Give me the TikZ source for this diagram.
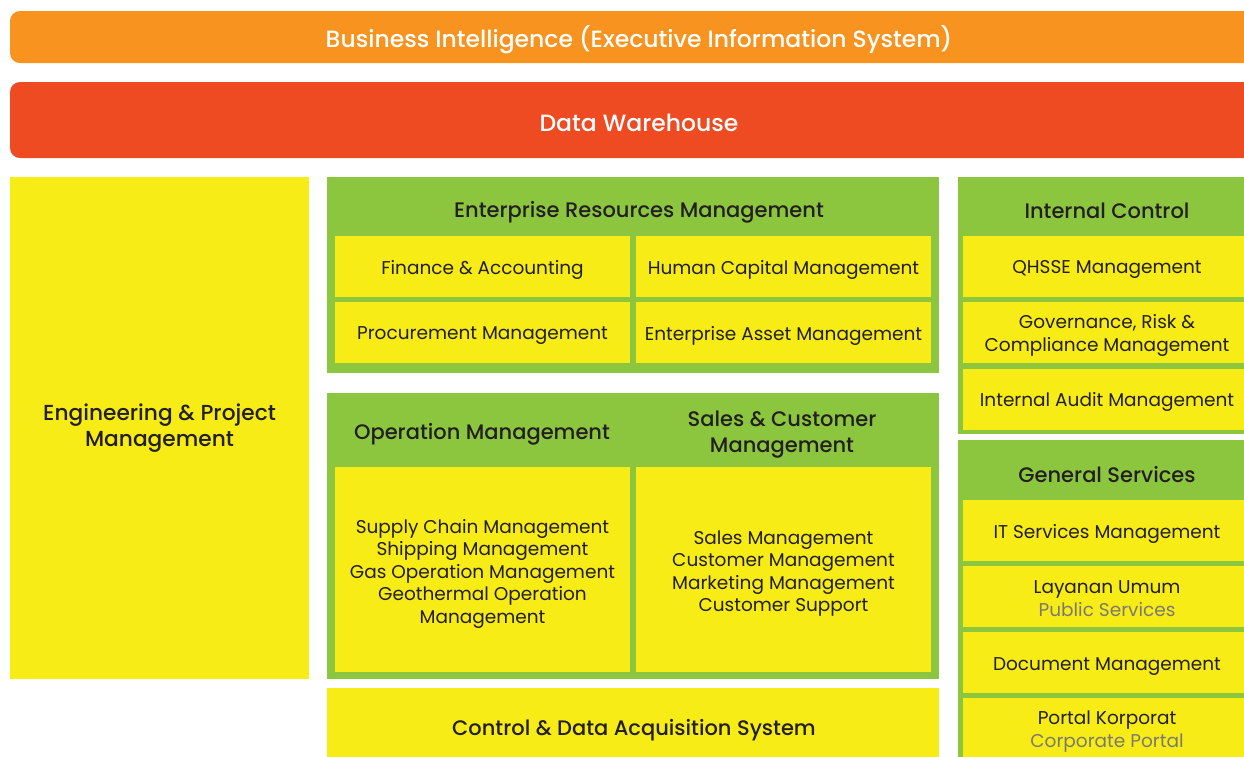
\documentclass[tikz,border=0pt]{standalone}
\usepackage{fontspec}
\setmainfont{Poppins}
\newfontfamily\medfont{Poppins Medium}
\definecolor{orng}{HTML}{F7931E}
\definecolor{redd}{HTML}{EE4B23}
\definecolor{grn}{HTML}{8CC63F}
\definecolor{ylw}{HTML}{F8EC17}
\definecolor{ink}{HTML}{231F20}
\definecolor{gry}{HTML}{7A7A70}
\tikzset{
  txt/.style={inner sep=0pt, align=center, text=ink, font=\fontsize{18.5}{22.5}\selectfont},
  hdr/.style={inner sep=0pt, align=center, text=ink, font=\medfont\fontsize{21}{26}\selectfont},
  bar/.style={inner sep=0pt, text=white, font=\medfont\fontsize{23.5}{26}\selectfont}
}
\begin{document}
\begin{tikzpicture}[x=1pt,y=-1pt]
\useasboundingbox (0,0) rectangle (1244,756);
\clip (0,0) rectangle (1244,756);
% top bars
\fill[orng, rounded corners=10pt] (10,11) rectangle (1270,63);
\node[bar] (bi) at (639,40) {Business Intelligence (Executive Information System)};
\fill[redd, rounded corners=10pt] (10,82) rectangle (1270,158);
\node[bar] (dw) at (639,122.5) {Data Warehouse};
% left column
\fill[ylw] (10,177) rectangle (309,679);
\node[hdr, font=\medfont\fontsize{21.7}{26}\selectfont] (eng) at (159.5,428) {Engineering \& Project\\Management};
% ERM group
\fill[grn] (327,177) rectangle (939,373);
\fill[ylw] (335,236) rectangle (630,297);
\fill[ylw] (636,236) rectangle (931,297);
\fill[ylw] (335,302) rectangle (630,363);
\fill[ylw] (636,302) rectangle (931,363);
\node[hdr] (ermh) at (639,212) {Enterprise Resources Management};
\node[txt] (fin) at (482.5,269.5) {Finance \& Accounting};
\node[txt] (hcm) at (783.5,269.5) {Human Capital Management};
\node[txt] (proc) at (482.5,335.5) {Procurement Management};
\node[txt] (eam) at (783.5,335.5) {Enterprise Asset Management};
% Operation / Sales group
\fill[grn] (327,393) rectangle (939,679);
\fill[ylw] (335,467) rectangle (630,672);
\fill[ylw] (636,467) rectangle (931,672);
\node[hdr] (oph) at (482,434) {Operation Management};
\node[hdr] (sch) at (782,435) {Sales \& Customer\\Management};
\node[txt] (opc) at (482.5,573.5) {Supply Chain Management\\Shipping Management\\Gas Operation Management\\Geothermal Operation\\Management};
\node[txt] (scc) at (783.5,573.5) {Sales Management\\Customer Management\\Marketing Management\\Customer Support};
% Control & Data Acquisition
\fill[ylw] (327,688) rectangle (939,780);
\node[hdr] (cdash) at (634,730.5) {Control \& Data Acquisition System};
% Internal Control group
\fill[grn] (958,177) rectangle (1260,434);
\fill[ylw] (963,236) rectangle (1255,297);
\fill[ylw] (963,302) rectangle (1255,363);
\fill[ylw] (963,369) rectangle (1255,430);
\node[hdr] (ich) at (1107,211) {Internal Control};
\node[txt] (qhsse) at (1107,269.5) {QHSSE Management};
\node[txt] (grc) at (1107,335.5) {Governance, Risk \&\\Compliance Management};
\node[txt] (iam) at (1107,401.5) {Internal Audit Management};
% General Services group
\fill[grn] (958,440) rectangle (1260,780);
\fill[ylw] (963,500) rectangle (1255,561);
\fill[ylw] (963,566) rectangle (1255,627);
\fill[ylw] (963,632) rectangle (1255,693);
\fill[ylw] (963,698) rectangle (1255,780);
\node[hdr] (gsh) at (1107,474) {General Services};
\node[txt] (its) at (1107,533.5) {IT Services Management};
\node[txt] (lay) at (1107,598.5) {Layanan Umum\\\textcolor{gry}{Public Services}};
\node[txt] (doc) at (1107,666.5) {Document Management};
\node[txt] (port) at (1107,731.5) {Portal Korporat\\\textcolor{gry}{Corporate Portal}};
\end{tikzpicture}
\end{document}
